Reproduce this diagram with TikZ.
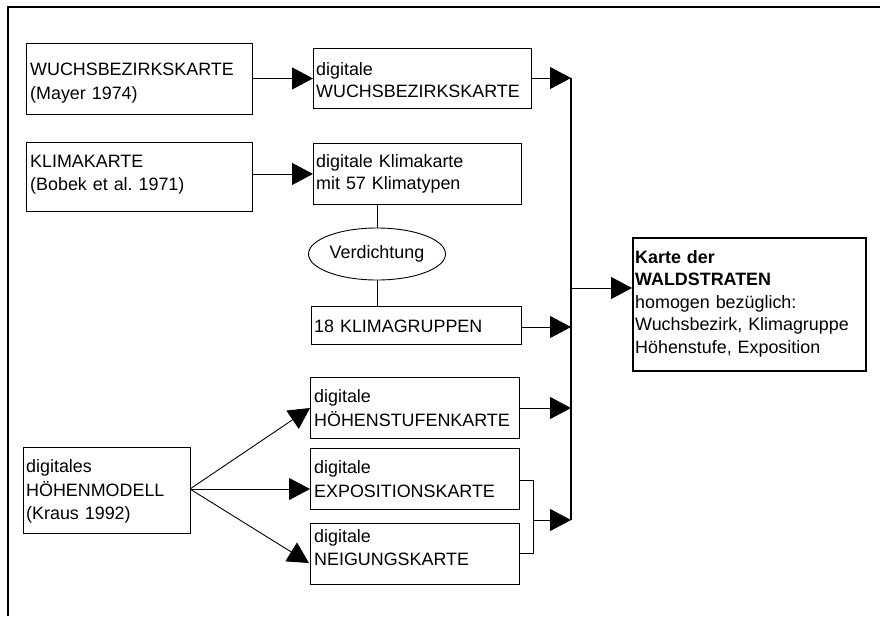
\documentclass[tikz,border=0pt]{standalone}
\usepackage{fontspec}
\setmainfont{Liberation Sans}
\usetikzlibrary{arrows.meta,shapes.geometric}
\frenchspacing
\begin{document}
\begin{tikzpicture}[x=1pt,y=-1pt,
  box/.style={draw,line width=0.9pt,inner sep=0pt,anchor=north west},
  txt/.style={anchor=base west,inner sep=0pt,text width=#1,align=left,font=\fontsize{17.9}{23}\selectfont},
  conn/.style={line width=0.9pt},
  arr/.style={line width=0.9pt,-{Triangle[length=21pt,width=22pt]}}]
\useasboundingbox (0,0) rectangle (880,616);
% outer frame (only top and left edges visible)
\draw[line width=2.6pt] (8,616) -- (8,7) -- (880,7);

% boxes
\node[box,minimum width=226,minimum height=71] (A) at (26,43) {};
\node[box,minimum width=218,minimum height=60] (B) at (313,48) {};
\node[box,minimum width=226,minimum height=69] (C) at (26,142) {};
\node[box,minimum width=208,minimum height=61] (D) at (313,143) {};
\node[box,minimum width=210,minimum height=38] (E) at (311,306) {};
\node[box,minimum width=209,minimum height=61] (F) at (310,377) {};
\node[box,minimum width=167,minimum height=86] (G) at (23,447) {};
\node[box,minimum width=209,minimum height=61] (H) at (310,448) {};
\node[box,minimum width=209,minimum height=61] (I) at (310,523) {};
\node[box,line width=1.9pt,minimum width=233,minimum height=133] (W) at (632,237) {};
\node[draw,ellipse,line width=0.9pt,minimum width=137,minimum height=52,inner sep=0pt,
      font=\fontsize{17.9}{23}\selectfont] (V) at (377,254) {Verdichtung};

% texts
\node[txt=220] (tA) at (30,75) {WUCHSBEZIRKSKARTE\\[1pt](Mayer 1974)};
\node[txt=215] (tB) at (316,75) {digitale\\[-1pt]WUCHSBEZIRKSKARTE};
\node[txt=220] (tC) at (30,167) {KLIMAKARTE\\(Bobek et al.\ 1971)};
\node[txt=205] (tD) at (316,167) {digitale Klimakarte\\[-1pt]mit 57 Klimatypen};
\node[txt=205] (tE) at (314,332) {18 KLIMAGRUPPEN};
\node[txt=205] (tF) at (314,402) {digitale\\[1pt]HÖHENSTUFENKARTE};
\node[txt=205] (tH) at (314,473) {digitale\\[1pt]EXPOSITIONSKARTE};
\node[txt=205] (tI) at (314,542) {digitale\\NEIGUNGSKARTE};
\node[txt=163] (tG) at (26,472) {digitales\\[1pt]HÖHENMODELL\\(Kraus 1992)};
\node[txt=228,font=\fontsize{17.9}{22.5}\selectfont] (tW) at (635,263)
  {\textbf{Karte der}\\\textbf{WALDSTRATEN}\\homogen bezüglich:\\Wuchsbezirk, Klimagruppe\\Höhenstufe, Exposition};

% junction coordinates on the collecting line
\coordinate (vB) at (571,78);
\coordinate (vW) at (571,288);
\coordinate (vE) at (571,327);
\coordinate (vF) at (571,408);
\coordinate (vX) at (571,520);
\coordinate (bk) at (533,520);
\coordinate (bH) at (533,480);
\coordinate (bI) at (533,553);
\coordinate (gO) at (190,489);
\coordinate (fT) at (310,408);
\coordinate (hT) at (310,489);
\coordinate (iT) at (309,563);

% connectors
\draw[arr] (A.east |- B.west) -- (B.west);
\draw[arr] (C.east |- D.west) -- (D.west);
\draw[arr] (B.east |- vB) -- (vB);
\draw[conn] (D.south -| V.north) -- (V.north);
\draw[conn] (V.south) -- (E.north -| V.south);
\draw[arr] (E.east |- vE) -- (vE);
\draw[arr] (F.east |- vF) -- (vF);
\draw[conn] (H.east |- bH) -- (bH) -- (bI) -- (I.east |- bI);
\draw[arr] (bk) -- (vX);
\draw[line width=1.3pt] (vB) -- (vX);
\draw[arr] (vW) -- (W.west |- vW);
\draw[arr] (gO) -- (fT);
\draw[arr] (gO) -- (hT);
\draw[arr] (gO) -- (iT);
\end{tikzpicture}
\end{document}
